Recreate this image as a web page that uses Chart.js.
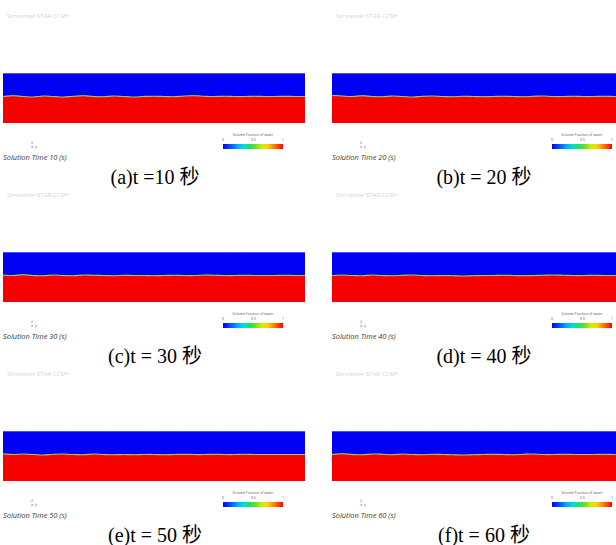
<!DOCTYPE html>
<html>
<head>
<meta charset="utf-8">
<script src="https://cdn.jsdelivr.net/npm/chart.js@4.4.1/dist/chart.umd.min.js"></script>
<style>
  body { margin: 0; background: #fff; }
  #page { position: relative; width: 616px; height: 545px; overflow: hidden; background: #fff; }
  .cell { position: absolute; width: 310px; height: 179px; }
  .mark { position: absolute; left: 7px; top: 12px; font: 6px "Open Sans", sans-serif; color: #c9d7e2; white-space: nowrap; }
  .cell canvas { position: absolute; left: 3px; top: 73px; }
  .triad { position: absolute; left: 31px; top: 141px; font: 4px "DejaVu Sans", sans-serif; color: #777; line-height: 4px; }
  .stime { position: absolute; left: 3px; top: 152px; font: italic 7.4px "Open Sans", sans-serif; color: #3a3a3a; white-space: nowrap; }
  .cbtitle { position: absolute; left: 223px; width: 60px; top: 132px; text-align: center; font: 3.5px "Open Sans", sans-serif; color: #555; white-space: nowrap; }
  .cbtick { position: absolute; top: 137px; font: 3.5px "Open Sans", sans-serif; color: #555; }
  .cbar { position: absolute; left: 223px; top: 144px; width: 60px; height: 5px;
          background: linear-gradient(to right, #0000ff 0%, #0050ff 12%, #00b0ff 25%, #00e0d0 35%, #20e060 45%, #70e020 55%, #d0f000 65%, #ffd000 75%, #ff7000 87%, #ff0000 100%); }
  .caption { position: absolute; left: 0; width: 310px; top: 161px; text-align: center;
             font: 20px "Liberation Serif", "Noto Sans CJK SC", serif; color: #000; white-space: nowrap; }
</style>
</head>
<body>
<div id="page"></div>
<script>
// panel captions and solution times
const captions = ["(a)t =10 秒", "(b)t = 20 秒", "(c)t = 30 秒", "(d)t = 40 秒", "(e)t = 50 秒", "(f)t = 60 秒"];
const solutionTimes = [10, 20, 30, 40, 50, 60];

// stations along the tank (px-ish units), and free-surface height (fraction of depth)
const stations = [0, 10, 20, 30, 40, 50, 60, 70, 80, 90, 100, 110, 120, 130, 140, 150,
                  160, 170, 180, 190, 200, 210, 220, 230, 240, 250, 260, 270, 280, 290, 300];
const surface10 = [0.53, 0.545, 0.53, 0.52, 0.54, 0.53, 0.52, 0.535, 0.545, 0.53, 0.525, 0.54, 0.53, 0.52, 0.53, 0.535,
                   0.53, 0.525, 0.54, 0.545, 0.535, 0.53, 0.535, 0.53, 0.53, 0.535, 0.53, 0.53, 0.532, 0.53, 0.53];
const surface20 = [0.55, 0.54, 0.53, 0.545, 0.53, 0.525, 0.54, 0.53, 0.52, 0.535, 0.54, 0.53, 0.525, 0.535, 0.53, 0.525,
                   0.53, 0.535, 0.53, 0.525, 0.535, 0.54, 0.53, 0.53, 0.535, 0.53, 0.53, 0.535, 0.53, 0.53, 0.53];
const surface30 = [0.54, 0.53, 0.545, 0.53, 0.525, 0.54, 0.53, 0.525, 0.54, 0.535, 0.53, 0.525, 0.535, 0.53, 0.53, 0.525,
                   0.53, 0.535, 0.53, 0.53, 0.54, 0.535, 0.53, 0.53, 0.535, 0.53, 0.53, 0.53, 0.535, 0.53, 0.53];
const surface40 = [0.53, 0.54, 0.53, 0.525, 0.54, 0.53, 0.525, 0.535, 0.54, 0.53, 0.525, 0.53, 0.525, 0.52, 0.525, 0.53,
                   0.53, 0.535, 0.53, 0.525, 0.53, 0.535, 0.54, 0.535, 0.53, 0.53, 0.535, 0.53, 0.53, 0.53, 0.53];
const surface50 = [0.545, 0.53, 0.54, 0.53, 0.52, 0.535, 0.54, 0.53, 0.525, 0.54, 0.53, 0.525, 0.53, 0.525, 0.53, 0.53,
                   0.525, 0.53, 0.535, 0.53, 0.53, 0.535, 0.53, 0.53, 0.535, 0.53, 0.53, 0.53, 0.53, 0.53, 0.53];
const surface60 = [0.53, 0.545, 0.53, 0.525, 0.54, 0.535, 0.525, 0.54, 0.53, 0.525, 0.535, 0.53, 0.525, 0.52, 0.525, 0.53,
                   0.535, 0.53, 0.525, 0.535, 0.54, 0.53, 0.53, 0.535, 0.53, 0.53, 0.53, 0.535, 0.53, 0.53, 0.53];
const surfaces = [surface10, surface20, surface30, surface40, surface50, surface60];
const colorbarTicks = ["0", "0.5", "1"];

const page = document.getElementById("page");

surfaces.forEach((surface, i) => {
  const cell = document.createElement("div");
  cell.className = "cell";
  cell.style.left = (i % 2 === 0 ? 0 : 329) + "px";
  cell.style.top = (Math.floor(i / 2) * 179) + "px";
  cell.innerHTML =
    '<div class="mark">Simcenter STAR-CCM+</div>' +
    '<canvas width="302" height="50"></canvas>' +
    '<div class="triad">z<br>x y</div>' +
    '<div class="stime">Solution Time ' + solutionTimes[i] + ' (s)</div>' +
    '<div class="cbtitle">Volume Fraction of water</div>' +
    '<div class="cbtick" style="left:222px">' + colorbarTicks[0] + '</div>' +
    '<div class="cbtick" style="left:251px">' + colorbarTicks[1] + '</div>' +
    '<div class="cbtick" style="left:282px">' + colorbarTicks[2] + '</div>' +
    '<div class="cbar"></div>' +
    '<div class="caption">' + captions[i] + '</div>';
  page.appendChild(cell);

  const points = stations.map((x, k) => ({ x: x, y: surface[k] }));
  const top = stations.map((x) => ({ x: x, y: 1 }));

  new Chart(cell.querySelector("canvas"), {
    type: "line",
    data: {
      datasets: [
        {
          label: "water",
          data: points,
          fill: "start",
          backgroundColor: "#f70000",
          borderColor: "#8fcf55",
          borderWidth: 1.2,
          tension: 0.4,
          pointRadius: 0
        },
        {
          label: "air",
          data: top,
          fill: "-1",
          backgroundColor: "#0000f2",
          borderColor: "#9a9aff",
          borderWidth: 1,
          pointRadius: 0
        }
      ]
    },
    options: {
      responsive: false,
      animation: false,
      layout: { padding: 0 },
      plugins: { legend: { display: false }, tooltip: { enabled: false } },
      scales: {
        x: { type: "linear", min: 0, max: 300, display: false },
        y: { min: 0, max: 1, display: false }
      }
    }
  });
});
</script>
</body>
</html>
